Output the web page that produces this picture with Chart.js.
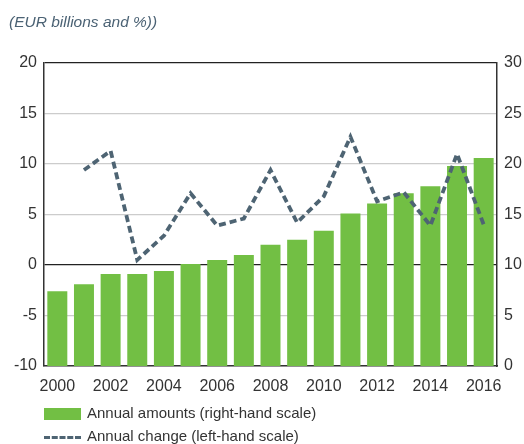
<!DOCTYPE html>
<html>
<head>
<meta charset="utf-8">
<script src="https://cdn.jsdelivr.net/npm/chart.js@4"></script>
<style>
  body { margin: 0; background: #fff; font-family: "Liberation Sans", Arial, sans-serif; }
  #wrap { position: relative; width: 524px; height: 444px; }
  #title { position: absolute; left: 9px; top: 13px; font-size: 15.5px; font-style: italic; color: #4b6274; }
  .leg { position: absolute; left: 44px; font-size: 15px; color: #333; }
  .leg span { display: inline-block; vertical-align: middle; margin-right: 6px; }
</style>
</head>
<body>
<div id="wrap">
  <canvas id="myChart" width="524" height="444"></canvas>
  <div id="title">(EUR billions and %))</div>
  <div class="leg" style="top:404px"><span style="width:37px;height:12px;background:#72bf44"></span>Annual amounts (right-hand scale)</div>
  <div class="leg" style="top:427px"><span style="width:37px;height:0;border-top:3.5px dashed #4e6473"></span>Annual change (left-hand scale)</div>
</div>
<script>
const years = ["2000","2001","2002","2003","2004","2005","2006","2007","2008","2009","2010","2011","2012","2013","2014","2015","2016"];
const annualAmounts = [7.4, 8.1, 9.1, 9.1, 9.4, 10.1, 10.5, 11.0, 12.0, 12.5, 13.4, 15.1, 16.1, 17.1, 17.8, 19.8, 20.6];
const annualChange = [null, 9.4, 11.3, 0.5, 2.9, 7.1, 3.9, 4.6, 9.4, 4.2, 6.8, 12.7, 6.3, 7.2, 3.9, 11.0, 4.0];
const leftTicks = [-10, -5, 0, 5, 10, 15, 20];
const rightTicks = [0, 5, 10, 15, 20, 25, 30];

const green = "#72bf44";
const slate = "#4e6473";
const tickFont = { size: 16, family: "Liberation Sans" };

new Chart("myChart", {
  data: {
    labels: years,
    datasets: [
      {
        type: "line",
        label: "Annual change (left-hand scale)",
        data: annualChange,
        yAxisID: "y",
        borderColor: slate,
        borderWidth: 3.8,
        borderDash: [7, 4],
        pointRadius: 0,
        tension: 0,
        spanGaps: false,
        order: 0
      },
      {
        type: "bar",
        label: "Annual amounts (right-hand scale)",
        data: annualAmounts,
        yAxisID: "y1",
        backgroundColor: green,
        barPercentage: 0.75,
        categoryPercentage: 1,
        order: 1
      }
    ]
  },
  options: {
    responsive: false,
    animation: false,
    layout: { padding: { top: 63, bottom: 48, left: 0, right: 0 } },
    plugins: { legend: { display: false }, tooltip: { enabled: false } },
    scales: {
      x: {
        grid: { display: false },
        border: { color: "#333", width: 1.5 },
        ticks: {
          autoSkip: false, maxRotation: 0, color: "#333", padding: 3,
          font: tickFont,
          callback: function (v, i) { return i % 2 === 0 ? years[i] : ""; }
        },
        afterFit: function (s) { s.height = 30; }
      },
      y: {
        position: "left",
        min: leftTicks[0], max: leftTicks[leftTicks.length - 1],
        afterBuildTicks: function (s) { s.ticks = leftTicks.map(v => ({ value: v })); },
        grid: {
          color: function (c) { return (c.tick.value === 0 || c.tick.value === 20) ? "#222" : "#cccccc"; },
          lineWidth: function (c) { return (c.tick.value === 0 || c.tick.value === 20) ? 1.3 : 1.2; },
          drawTicks: false
        },
        border: { color: "#333", width: 1.5 },
        ticks: { color: "#333", padding: 7, font: tickFont },
        afterFit: function (s) { s.width = 44; }
      },
      y1: {
        position: "right",
        min: rightTicks[0], max: rightTicks[rightTicks.length - 1],
        afterBuildTicks: function (s) { s.ticks = rightTicks.map(v => ({ value: v })); },
        grid: { display: false, drawTicks: false },
        border: { color: "#333", width: 1.5 },
        ticks: { color: "#333", padding: 7, font: tickFont },
        afterFit: function (s) { s.width = 27; }
      }
    }
  }
});
</script>
</body>
</html>
